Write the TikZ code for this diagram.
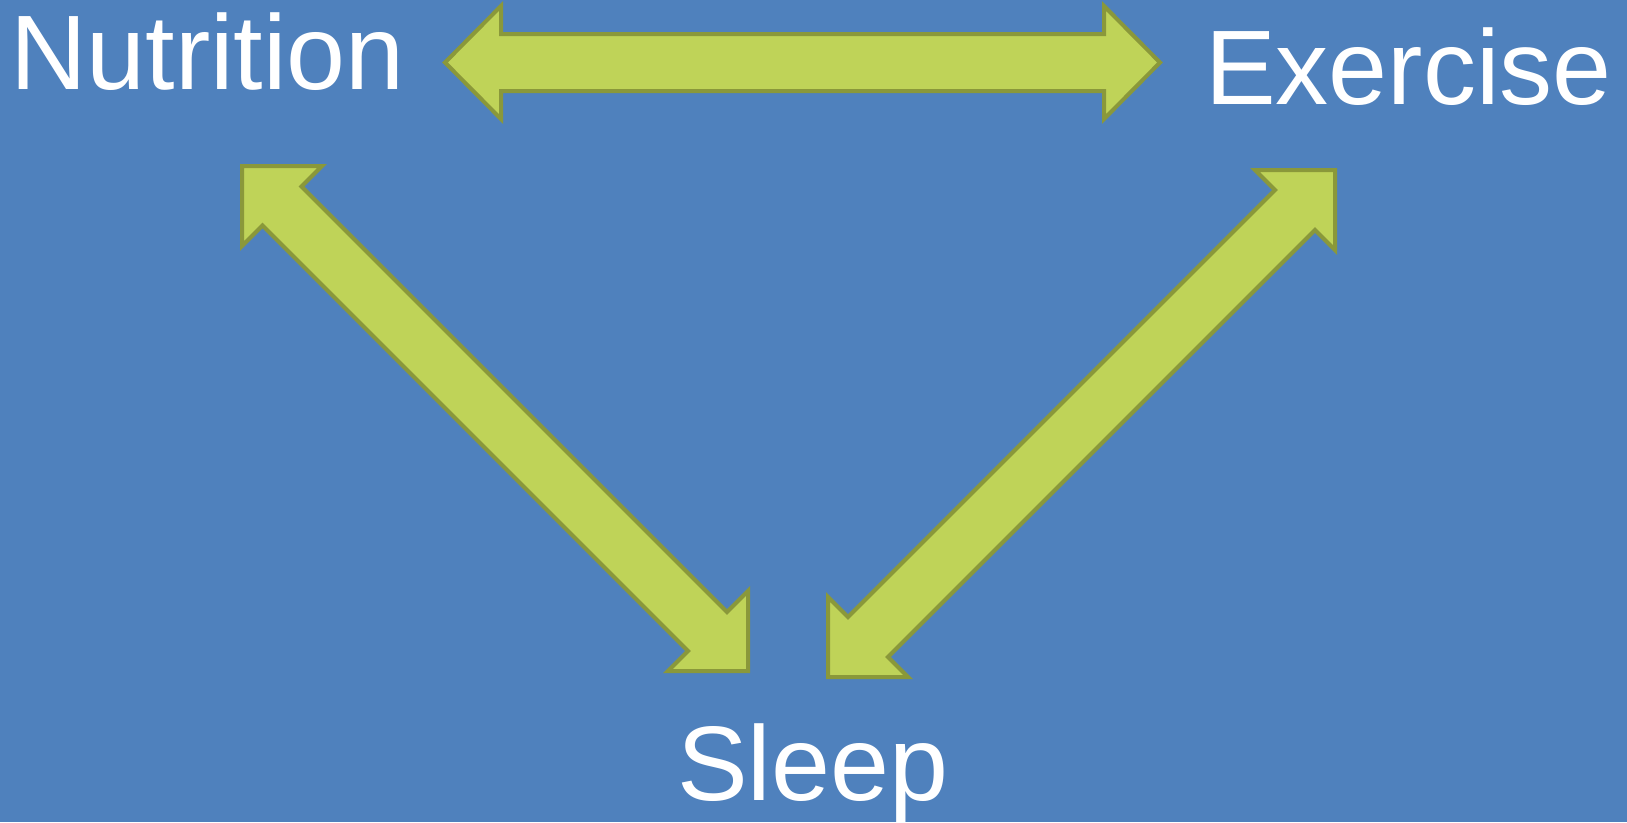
\documentclass[tikz,border=0pt]{standalone}
\usepackage{fontspec}
\setmainfont{Liberation Sans}
\definecolor{bgblue}{RGB}{79,129,189}
\definecolor{arrowfill}{RGB}{191,211,88}
\definecolor{arrowline}{RGB}{138,152,58}
\begin{document}
\begin{tikzpicture}[x=1pt,y=-1pt,
  label/.style={anchor=base west,inner sep=0pt,text=white,font=\fontsize{106}{127}\selectfont},
  blockarrow/.style={fill=arrowfill,draw=arrowline,line width=4pt,line join=miter}]
\fill[bgblue] (0,0) rectangle (1627,822);
\useasboundingbox (0,0) rectangle (1627,822);
% labels
\node[label] (nut) at (10,89) {Nutrition};
\node[label] (exe) at (1205,104) {Exercise};
\node[label] (slp) at (677,800) {Sleep};
% horizontal double arrow
\draw[blockarrow] (445,62.5) -- (501,6) -- (501,34) -- (1104,34) -- (1104,6)
  -- (1160,62.5) -- (1104,119) -- (1104,91) -- (501,91) -- (501,119) -- cycle;
% Nutrition - Sleep arrow
\draw[blockarrow] (242,166) -- (322,166) -- (301.5,186.5) -- (727,612) -- (748,591)
  -- (748,671) -- (668,671) -- (688,651) -- (262.5,225.5) -- (242,246) -- cycle;
% Exercise - Sleep arrow
\draw[blockarrow] (1335,170) -- (1335,250) -- (1315,230) -- (888,657) -- (908,677)
  -- (828,677) -- (828,597) -- (848,617) -- (1275,190) -- (1255,170) -- cycle;
\end{tikzpicture}
\end{document}
